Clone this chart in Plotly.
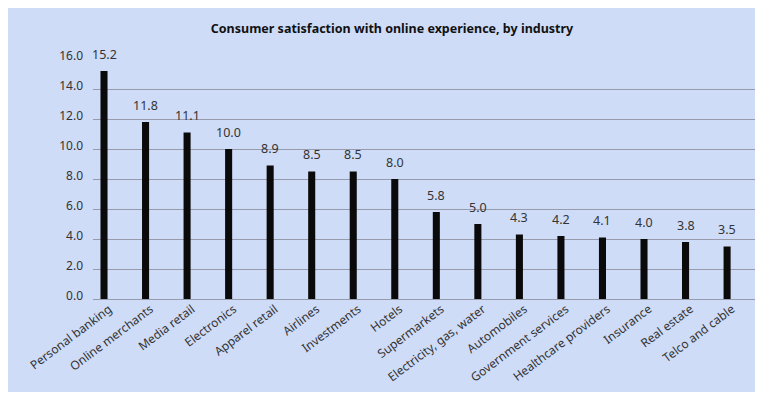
import plotly.graph_objects as go

industries = ["Personal banking", "Online merchants", "Media retail", "Electronics",
              "Apparel retail", "Airlines", "Investments", "Hotels", "Supermarkets",
              "Electricity, gas, water", "Automobiles", "Government services",
              "Healthcare providers", "Insurance", "Real estate", "Telco and cable"]
scores = [15.2, 11.8, 11.1, 10.0, 8.9, 8.5, 8.5, 8.0, 5.8, 5.0, 4.3, 4.2, 4.1, 4.0, 3.8, 3.5]
y_ticks = [0, 2, 4, 6, 8, 10, 12, 14, 16]
title_text = "Consumer satisfaction with online experience, by industry"

# page body has an 8px margin, so the figure starts at (8, 8) in the window
OFF = 8
W, H = 763 - OFF, 394 - OFF
L, R, T = 93 - OFF, 6, 59 - OFF
B = H - (299 - OFF)
pw, ph = W - L - R, H - T - B

def px_x(p):
    return (p - OFF - L) / pw

def px_y(p):
    return (H - B - (p - OFF)) / ph

FONT = "Noto Sans"
BG = "#cfdcf8"

fig = go.Figure()
fig.add_trace(go.Bar(
    x=industries, y=scores,
    marker=dict(color="#0a0a0a", line=dict(width=0)),
    width=0.17,
    hoverinfo="x+y",
))

for name, v in zip(industries, scores):
    fig.add_annotation(x=name, y=v, text=f"{v:.1f}", showarrow=False,
                       yshift=17, yanchor="middle",
                       font=dict(family=FONT, size=12.5, color="#333333"))

fig.add_shape(type="rect", xref="paper", yref="paper",
              x0=px_x(7), x1=px_x(763), y0=px_y(392), y1=px_y(7),
              fillcolor=BG, line=dict(width=0), layer="below")

fig.update_layout(
    width=W, height=H,
    margin=dict(l=L, r=R, t=T, b=B, autoexpand=False),
    paper_bgcolor="white",
    plot_bgcolor="rgba(0,0,0,0)",
    showlegend=False,
    title=dict(text=f"<b>{title_text}</b>", x=px_x(392), xref="paper", xanchor="center",
               y=1 - (29 - OFF) / H, yanchor="middle",
               font=dict(family=FONT, size=12.5, color="#111111")),
    font=dict(family=FONT, color="#333333"),
)
fig.update_xaxes(
    type="category",
    range=[-0.265, 15.72],
    tickangle=-37,
    tickfont=dict(family=FONT, size=12, color="#333333"),
    showgrid=False, showline=False, zeroline=False,
    ticks="", ticklabelshift=5,
)
fig.update_yaxes(
    range=[0, 16],
    tickvals=y_ticks,
    ticktext=[f"{t:.1f}" for t in y_ticks],
    tickfont=dict(family=FONT, size=12, color="#333333"),
    showgrid=True, gridcolor="#989bab", gridwidth=1,
    zeroline=True, zerolinecolor="#989bab", zerolinewidth=1,
    showline=False, ticks="", ticklabelstandoff=9, ticklabelshift=-3,
)

fig.write_html("out.html")
